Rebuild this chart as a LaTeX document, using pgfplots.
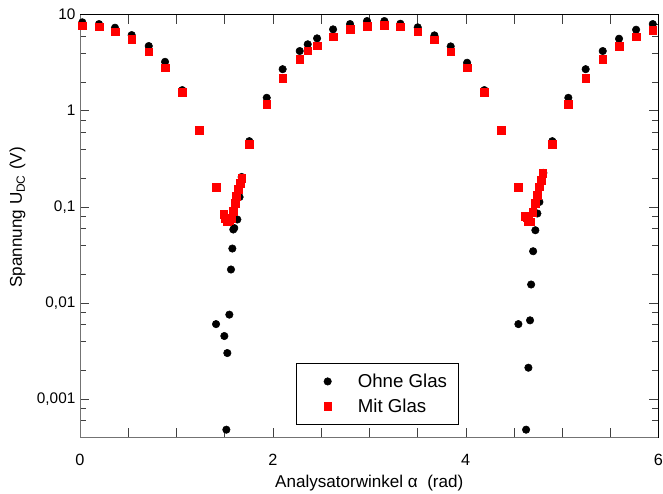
\documentclass[border=0pt]{standalone}
\usepackage{fontspec}
\setmainfont{Liberation Sans}
\usepackage{pgfplots}
\pgfplotsset{compat=1.18}

% Spannung ohne / mit Glas
\pgfplotstableread{
x y
0.024 8.30
0.197 7.96
0.363 7.29
0.536 6.11
0.713 4.70
0.882 3.22
1.061 1.635
1.238 0.62
1.411 0.00600
1.497 0.00451
1.518 0.000478
1.528 0.00300
1.549 0.00753
1.566 0.0222
1.580 0.0367
1.590 0.0579
1.600 0.0600
1.632 0.0736
1.655 0.126
1.677 0.204
1.756 0.481
1.937 1.36
2.102 2.70
2.279 4.17
2.362 4.90
2.459 5.65
2.625 7.01
2.801 7.96
2.977 8.56
3.157 8.56
3.323 8.02
3.503 7.36
3.676 6.07
3.845 4.66
4.015 3.15
4.194 1.635
4.367 0.62
4.547 0.0060
4.627 0.000478
4.651 0.00211
4.668 0.00657
4.679 0.0155
4.700 0.0344
4.723 0.0569
4.744 0.085
4.765 0.112
4.806 0.225
4.899 0.481
5.065 1.36
5.245 2.70
5.422 4.17
5.591 5.60
5.768 6.95
5.941 7.96
}\ohneglas

\pgfplotstableread{
x y
0.024 7.64
0.197 7.47
0.363 6.62
0.536 5.52
0.713 4.10
0.882 2.79
1.061 1.56
1.238 0.622
1.411 0.1607
1.490 0.0830
1.510 0.0760
1.525 0.0700
1.545 0.0720
1.566 0.0758
1.587 0.0898
1.608 0.1087
1.623 0.129
1.644 0.152
1.660 0.176
1.677 0.198
1.756 0.445
1.937 1.17
2.102 2.18
2.279 3.44
2.362 4.20
2.459 4.73
2.625 5.87
2.801 7.01
2.977 7.59
3.157 7.72
3.323 7.47
3.503 6.62
3.676 5.46
3.845 4.10
4.015 2.79
4.194 1.56
4.367 0.622
4.544 0.1607
4.615 0.0800
4.633 0.0783
4.650 0.0700
4.668 0.0695
4.696 0.0883
4.720 0.108
4.744 0.132
4.765 0.161
4.782 0.189
4.799 0.222
4.899 0.445
5.065 1.16
5.245 2.16
5.422 3.44
5.591 4.70
5.768 5.87
5.941 6.89
}\mitglas

\begin{document}
\begin{tikzpicture}
\begin{axis}[
    scale only axis, width=433.8bp, height=316.9bp,
    ymode=log, xmin=0, xmax=6, ymin=4e-4, ymax=10,
    font=\fontsize{11.5bp}{13bp}\selectfont,
    xtick={0,0.5,...,6}, xticklabels={0,,,,2,,,,4,,,,6},
    ytick={0.001,0.01,0.1,1,10},
    yticklabels={{0,001},{0,01},{0,1},1,10},
    minor ytick={0.0006,0.0008,0.002,0.004,0.006,0.008,0.02,0.04,0.06,0.08,
                 0.2,0.4,0.6,0.8,2,4,6,8},
    tick align=inside, major tick length=7bp, minor tick length=4.5bp,
    tick style={black!75},
    xticklabel style={yshift=-9bp, font=\fontsize{12.2bp}{14bp}\selectfont},
    xlabel={Analysatorwinkel α\ \ (rad)},
    ylabel={Spannung U\textsubscript{DC} (V)},
    label style={font=\fontsize{12.8bp}{15bp}\selectfont},
    xlabel style={at={(axis description cs:0.5,-0.108)}, anchor=center},
    ylabel style={at={(axis description cs:-0.108,0.52)}, anchor=center},
    legend cell align=left,
    legend style={at={(0.3726,0.1744)}, anchor=north west, draw=black,
        font=\fontsize{14bp}{16bp}\selectfont,
        inner xsep=21bp, inner ysep=5.5bp, row sep=3bp,
        /tikz/every odd column/.append style={column sep=17.7bp}},
]
\addplot[only marks, mark=*, mark size=2.8bp, black] table[x=x, y=y] {\ohneglas};
\addplot[only marks, mark=square*, mark size=2.9bp, red, mark options={draw=red, fill=red}] table[x=x, y=y] {\mitglas};
\legend{\makebox[52bp][l]{Ohne Glas}, \makebox[52bp][l]{Mit Glas}}
\draw[black!55] (rel axis cs:0,0) -- (rel axis cs:1,0);
\draw[black!55] (rel axis cs:0,0) -- (rel axis cs:0,1);
\end{axis}
\pgfresetboundingbox
\path ([shift={(-60bp,-42bp)}]current axis.south west) rectangle ([shift={(3.4bp,10.9bp)}]current axis.north east);
\end{tikzpicture}
\end{document}
